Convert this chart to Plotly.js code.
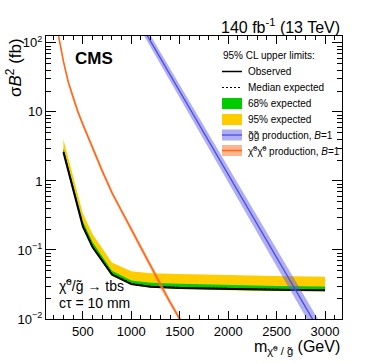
<!DOCTYPE html>
<html>
<head>
<meta charset="utf-8">
<script src="https://cdn.plot.ly/plotly-3.0.1.min.js"></script>
<style>
    html, body { margin: 0; padding: 0; background: #fff; }
    #chart { width: 374px; height: 363px; }
</style>
</head>
<body>
<div id="chart"></div>
<script>
// Limit scan points (GeV) and expected / observed limits (fb)
const masses = [300, 400, 500, 600, 800, 1000, 1200, 1500, 2000, 2500, 3000];
const observed = [2.6, 0.72, 0.22, 0.11, 0.044, 0.032, 0.0293, 0.0282, 0.027, 0.0265, 0.026];
const expected = [2.65, 0.74, 0.225, 0.112, 0.045, 0.0325, 0.0297, 0.0286, 0.0274, 0.0268, 0.0264];
const exp68Up = [3.0, 0.84, 0.26, 0.13, 0.05, 0.036, 0.0335, 0.0325, 0.031, 0.030, 0.0295];
const exp68Dn = [2.55, 0.70, 0.215, 0.107, 0.043, 0.0313, 0.0287, 0.0276, 0.0264, 0.0259, 0.0255];
const exp95Up = [4.0, 1.15, 0.34, 0.17, 0.066, 0.049, 0.046, 0.045, 0.043, 0.042, 0.041];
const exp95Dn = [2.5, 0.69, 0.21, 0.105, 0.042, 0.031, 0.0283, 0.0272, 0.026, 0.0255, 0.025];

// Neutralino pair production cross section
const chiMass = [250, 300, 350, 400, 450, 500, 600, 700, 800, 900, 1000, 1100, 1200, 1300, 1400, 1500, 1600];
const chiXsec = [125, 54, 27, 15.8, 10, 6.6, 3.0, 1.4, 0.68, 0.36, 0.2, 0.108, 0.058, 0.031, 0.0175, 0.0100, 0.0058];
const chiUp = [136, 59, 29.5, 17.2, 10.9, 7.2, 3.27, 1.53, 0.74, 0.39, 0.218, 0.118, 0.0635, 0.034, 0.0192, 0.011, 0.0064];
const chiDn = [114, 49, 24.6, 14.4, 9.1, 6.0, 2.73, 1.27, 0.62, 0.33, 0.182, 0.098, 0.053, 0.028, 0.0159, 0.0091, 0.0053];

// Gluino pair production cross section
const glMass = [1100, 1200, 1300, 1400, 1500, 1600, 1700, 1800, 1900, 2000, 2100, 2200, 2300, 2400, 2500, 2600, 2700, 2800, 2900, 3000, 3100];
const glXsec = [183, 105, 60, 34.5, 20, 11.4, 6.6, 3.76, 2.16, 1.24, 0.71, 0.41, 0.234, 0.134, 0.077, 0.044, 0.0255, 0.0146, 0.0084, 0.0048, 0.0028];
const glUp = [220, 127, 73, 42.3, 24.6, 14.1, 8.2, 4.7, 2.72, 1.57, 0.91, 0.53, 0.305, 0.176, 0.102, 0.059, 0.0345, 0.0199, 0.0116, 0.0067, 0.0039];
const glDn = [152, 87, 49.5, 28.2, 16.3, 9.2, 5.3, 3.0, 1.71, 0.98, 0.555, 0.318, 0.180, 0.102, 0.058, 0.033, 0.0189, 0.0107, 0.0061, 0.0034, 0.0020];

const yTickVals = [0.01, 0.1, 1, 10, 100];
const yTickText = ['10<sup>\u22122</sup>', '10<sup>\u22121</sup>', '1', '10', '10<sup>2</sup>'];

const FONT = 'Liberation Sans, Arial, Helvetica, sans-serif';
const COLORS = {
    green: '#00cc00',
    yellow: '#ffcc00',
    blueBand: 'rgba(95,95,230,0.5)',
    blueLine: '#4b4be6',
    orangeBand: 'rgba(255,130,70,0.55)',
    orangeLine: '#ff6a1a',
};

// plot area in pixels
const AREA = { l: 46, r: 342, t: 36, b: 319 };
const px = x => (x - AREA.l) / (AREA.r - AREA.l);
const py = y => (AREA.b - y) / (AREA.b - AREA.t);

// minor ticks of the log axis: 2..9 in every decade
const yMinor = [];
for (let d = -2; d <= 2; d++) {
    for (let k = 2; k <= 9; k++) yMinor.push(k * Math.pow(10, d));
}

function band(xs, lo, hi, color, name) {
    return {
        type: 'scatter',
        mode: 'lines',
        x: xs.concat(xs.slice().reverse()),
        y: hi.concat(lo.slice().reverse()),
        fill: 'toself',
        fillcolor: color,
        line: { width: 0 },
        hoverinfo: 'skip',
        name: name,
    };
}

function line(xs, ys, color, width, dash) {
    return {
        type: 'scatter',
        mode: 'lines',
        x: xs,
        y: ys,
        line: { color: color, width: width, dash: dash || 'solid' },
    };
}

const data = [
    band(masses, exp95Dn, exp95Up, COLORS.yellow, '95% expected'),
    band(masses, exp68Dn, exp68Up, COLORS.green, '68% expected'),
    line(masses, observed, '#000', 2),
    line(masses, expected, '#000', 1.2, '2px,2px'),
    band(glMass, glDn, glUp, COLORS.blueBand, 'gluino'),
    line(glMass, glXsec, COLORS.blueLine, 1.3),
    band(chiMass, chiDn, chiUp, COLORS.orangeBand, 'neutralino'),
    line(chiMass, chiXsec, COLORS.orangeLine, 1.6),
];

// legend drawn by hand, ROOT style
const legX0 = 222, legX1 = 242, legText = 246;
const legRows = [71.5, 87.5, 103.5, 119.5, 135, 150.5];
const shapes = [];
const annotations = [];

function lgLine(row, color, width, dash) {
    shapes.push({ type: 'line', xref: 'paper', yref: 'paper',
        x0: px(legX0), x1: px(legX1), y0: py(row), y1: py(row),
        line: { color: color, width: width, dash: dash || 'solid' } });
}
function lgBox(row, color) {
    shapes.push({ type: 'rect', xref: 'paper', yref: 'paper',
        x0: px(legX0), x1: px(legX1), y0: py(row - 5.5), y1: py(row + 5.5),
        fillcolor: color, line: { width: 0 } });
}
function text(x, y, str, size, opts) {
    annotations.push(Object.assign({
        xref: 'paper', yref: 'paper', x: px(x), y: py(y),
        text: str, showarrow: false, xanchor: 'left', yanchor: 'middle',
        font: { family: FONT, size: size, color: '#000' },
    }, opts || {}));
}

lgLine(legRows[0], '#000', 1.5);
lgLine(legRows[1], '#000', 1.2, '2px,2px');
lgBox(legRows[2], COLORS.green);
lgBox(legRows[3], COLORS.yellow);
lgBox(legRows[4], 'rgba(95,95,230,0.5)');
lgLine(legRows[4], COLORS.blueLine, 1.3);
lgBox(legRows[5], 'rgba(255,130,70,0.6)');
lgLine(legRows[5], COLORS.orangeLine, 1.6);

text(269, 56, '95% CL upper limits:', 10, { xanchor: 'center' });
text(legText, legRows[0], 'Observed', 10);
text(legText, legRows[1], 'Median expected', 10);
text(legText, legRows[2], '68% expected', 10);
text(legText, legRows[3], '95% expected', 10);
text(legText, legRows[4], 'g\u0303g\u0303 production, <i>B</i>=1', 10);
text(legText, legRows[5], '\u03c7\u0303<sup>0</sup>\u03c7\u0303<sup>0</sup> production, <i>B</i>=1', 10);

text(94, 58, '<b>CMS</b>', 17, { xanchor: 'center' });
text(342, 26, '140 fb<sup>-1</sup> (13 TeV)', 16, { xanchor: 'right' });
text(57, 285, '\u03c7\u0303<sup>0</sup>/g\u0303 \u2192 tbs', 14);
text(57, 303, 'c\u03c4 = 10 mm', 14);
text(342, 347, 'm<sub>\u03c7\u0303<sup>0</sup> / g\u0303</sub> (GeV)', 16, { xanchor: 'right' });
text(14, 68, '\u03c3<i>B</i><sup>2</sup> (fb)', 17, { xanchor: 'center', textangle: -90 });

const axisBase = {
    showline: true,
    linecolor: '#000',
    linewidth: 1,
    mirror: 'allticks',
    ticks: 'inside',
    tickcolor: '#000',
    tickwidth: 1,
    showgrid: false,
    zeroline: false,
    tickfont: { family: FONT, size: 13, color: '#000' },
};

const layout = {
    width: 374,
    height: 363,
    paper_bgcolor: '#fff',
    plot_bgcolor: '#fff',
    showlegend: false,
    margin: { l: AREA.l, r: 374 - AREA.r, t: AREA.t, b: 363 - AREA.b, pad: 0 },
    xaxis: {
        ...axisBase,
        range: [120, 3175],
        tick0: 0,
        dtick: 500,
        ticklen: 8,
        minor: { ticks: 'inside', ticklen: 4, dtick: 100, tick0: 0, tickcolor: '#000' },
    },
    yaxis: {
        ...axisBase,
        type: 'log',
        range: [-2, 2.1],
        tickmode: 'array',
        tickvals: yTickVals,
        ticktext: yTickText,
        ticklen: 10,
        minor: { ticks: 'inside', ticklen: 5, tickmode: 'array', tickvals: yMinor, tickcolor: '#000' },
    },
    shapes: shapes,
    annotations: annotations,
};

Plotly.newPlot('chart', data, layout, { displayModeBar: false, staticPlot: true });
</script>
</body>
</html>
